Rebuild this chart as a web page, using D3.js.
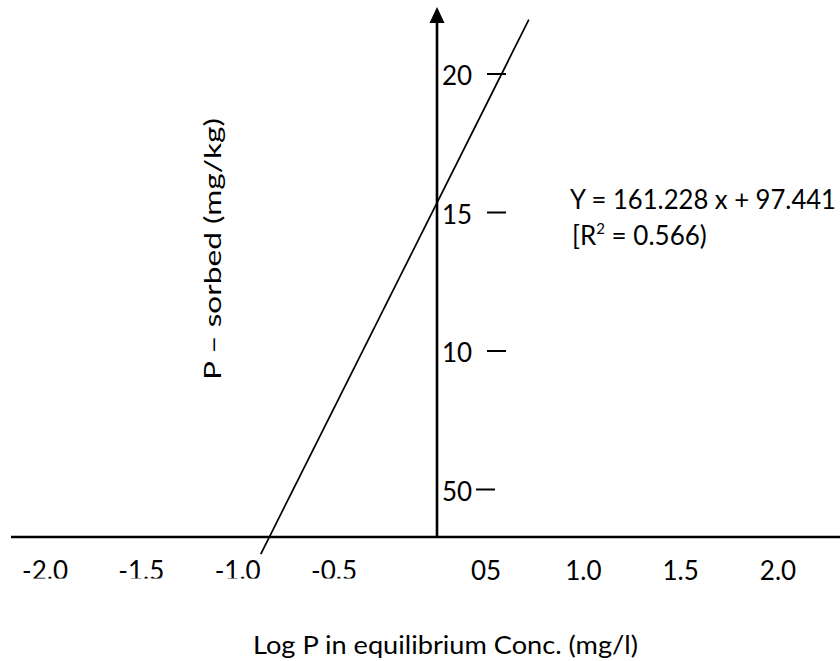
<!DOCTYPE html>
<html><head><meta charset="utf-8">
<script src="https://cdn.jsdelivr.net/npm/d3@7"></script>
<style>
body{margin:0;background:#fff}
text{font-family:Lato,"Open Sans",sans-serif;fill:#000}
</style>
</head><body>
<svg id="c" width="840" height="661"></svg>
<script>
// ---- data ----
const xTickValues = [-2, -1.5, -1, -0.5, 0.5, 1, 1.5, 2];
const xTickLabels = ["-2.0", "-1.5", "-1.0", "-0.5", "05", "1.0", "1.5", "2.0"];
const yTickValues = [20, 15, 10, 5];
const yTickLabels = ["20", "15", "10", "50"];
const lineX = [-0.88, 0.72];
const lineY = [2.67, 21.96];
const equationText = "Y = 161.228 x + 97.441";
const r2Value = "0.566";
const xTitle = "Log P in equilibrium Conc. (mg/l)";
const yTitle = "P \u2013 sorbed (mg/kg)";

// ---- layout ----
const W = 840, H = 661;
const axisX = 437, axisY = 537;
const svg = d3.select("#c");

const x = d3.scaleLinear().domain([-2, -0.5, 0.5, 2]).range([45, 334, 486, 778]);
const y = d3.scaleLinear().domain([5, 20]).range([489.5, 74]);

const defs = svg.append("defs");
defs.append("clipPath").attr("id", "leftClip")
  .append("rect").attr("x", 0).attr("y", 0).attr("width", 420).attr("height", 578.5);

// horizontal axis
svg.append("line").attr("x1", 11).attr("x2", W).attr("y1", axisY).attr("y2", axisY)
  .attr("stroke", "#000").attr("stroke-width", 2.6);
// vertical axis with arrow
svg.append("line").attr("x1", axisX).attr("x2", axisX).attr("y1", axisY).attr("y2", 23)
  .attr("stroke", "#000").attr("stroke-width", 2.6);
svg.append("path")
  .attr("d", `M${axisX - 7.5},23 L${axisX},7 L${axisX + 7.5},23 Z`)
  .attr("fill", "#000");

// x tick labels
const xData = xTickValues.map((v, i) => ({ v, label: xTickLabels[i] }));
svg.append("g").selectAll("text").data(xData).join("text")
  .attr("x", d => x(d.v)).attr("y", 580)
  .attr("text-anchor", "middle")
  .attr("font-size", 26)
  .attr("clip-path", d => d.v < 0 ? "url(#leftClip)" : null)
  .text(d => d.label);

// y ticks
const yData = yTickValues.map((v, i) => ({ v, label: yTickLabels[i] }));
const yg = svg.append("g");
yg.selectAll("line").data(yData).join("line")
  .attr("x1", d => d.v === 5 ? 476 : 487).attr("x2", d => d.v === 5 ? 495 : 506)
  .attr("y1", d => y(d.v)).attr("y2", d => y(d.v))
  .attr("stroke", "#000").attr("stroke-width", 2);
yg.selectAll("text").data(yData).join("text")
  .attr("x", axisX + 5).attr("y", d => y(d.v) + 11)
  .attr("font-size", 26)
  .text(d => d.label);

// regression line
const pts = lineX.map((v, i) => [x(v), y(lineY[i])]);
svg.append("path").attr("d", d3.line()(pts))
  .attr("fill", "none").attr("stroke", "#000").attr("stroke-width", 1.7);

// equation
svg.append("text").attr("x", 570).attr("y", 209).attr("font-size", 26)
  .attr("textLength", 266).attr("lengthAdjust", "spacingAndGlyphs").text(equationText);
const t2 = svg.append("text").attr("x", 572).attr("y", 245).attr("font-size", 26);
t2.append("tspan").text("[R");
t2.append("tspan").attr("font-size", 15).attr("dy", -11).text("2");
t2.append("tspan").attr("dy", 11).text(" = " + r2Value + ")");

// axis titles
svg.append("text").attr("x", 253).attr("y", 654)
  .attr("font-size", 25).attr("textLength", 385).attr("lengthAdjust", "spacingAndGlyphs")
  .text(xTitle);
svg.append("text")
  .attr("transform", "translate(221,380) rotate(-90)")
  .attr("font-size", 24).attr("textLength", 262).attr("lengthAdjust", "spacingAndGlyphs")
  .text(yTitle);
</script>
</body></html>
